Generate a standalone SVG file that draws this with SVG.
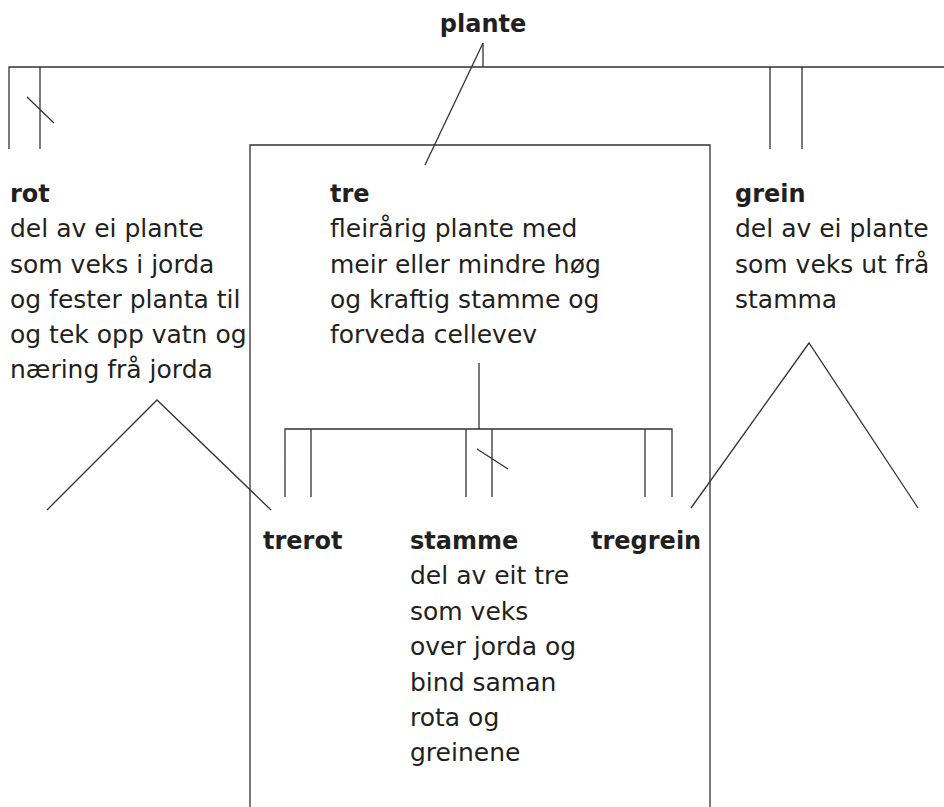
<svg xmlns="http://www.w3.org/2000/svg" width="944" height="807" viewBox="0 0 944 807">
<style>
.ln{fill:none;stroke:#333;stroke-width:1.3}
.t{font-family:"DejaVu Sans","Liberation Sans",sans-serif;font-size:25px;fill:#231f20}
.b{font-family:"DejaVu Sans","Liberation Sans",sans-serif;font-size:24px;font-weight:bold;fill:#231f20}
</style>
<rect width="944" height="807" fill="#fff"/>
<g id="connectors">
<path class="ln" d="M483,43V67M9,149V67H944M40,67V149M27,97L54,123M770,67V149M802,67V149"/>
<path class="ln" d="M483,43L425,165"/>
<path class="ln" d="M250,807V145H710V807"/>
<path class="ln" d="M479,363V429M285,497V429H672V497M311,429V497M466,429V497M492,429V497M645,429V497M477,449L508,469"/>
<path class="ln" d="M47,510L157,400L271,510"/>
<path class="ln" d="M691,508L809,343L918,508"/>
</g>
<g id="plante"><text class="b" x="483" y="32" text-anchor="middle">plante</text></g>
<g id="rot">
<text class="b" x="10" y="202">rot</text>
<text class="t" x="10" y="237">del av ei plante</text>
<text class="t" x="10" y="273">som veks i jorda</text>
<text class="t" x="10" y="308">og fester planta til</text>
<text class="t" x="10" y="343">og tek opp vatn og</text>
<text class="t" x="10" y="378">næring frå jorda</text>
</g>
<g id="tre">
<text class="b" x="330" y="202">tre</text>
<text class="t" x="330" y="237">fleirårig plante med</text>
<text class="t" x="330" y="273">meir eller mindre høg</text>
<text class="t" x="330" y="308">og kraftig stamme og</text>
<text class="t" x="330" y="343">forveda cellevev</text>
</g>
<g id="grein">
<text class="b" x="735" y="202">grein</text>
<text class="t" x="735" y="237">del av ei plante</text>
<text class="t" x="735" y="273">som veks ut frå</text>
<text class="t" x="735" y="308">stamma</text>
</g>
<g id="trerot"><text class="b" x="263" y="549">trerot</text></g>
<g id="stamme">
<text class="b" x="410" y="549">stamme</text>
<text class="t" x="410" y="584">del av eit tre</text>
<text class="t" x="410" y="620">som veks</text>
<text class="t" x="410" y="655">over jorda og</text>
<text class="t" x="410" y="691">bind saman</text>
<text class="t" x="410" y="726">rota og</text>
<text class="t" x="410" y="761">greinene</text>
</g>
<g id="tregrein"><text class="b" x="591" y="549">tregrein</text></g>
</svg>
